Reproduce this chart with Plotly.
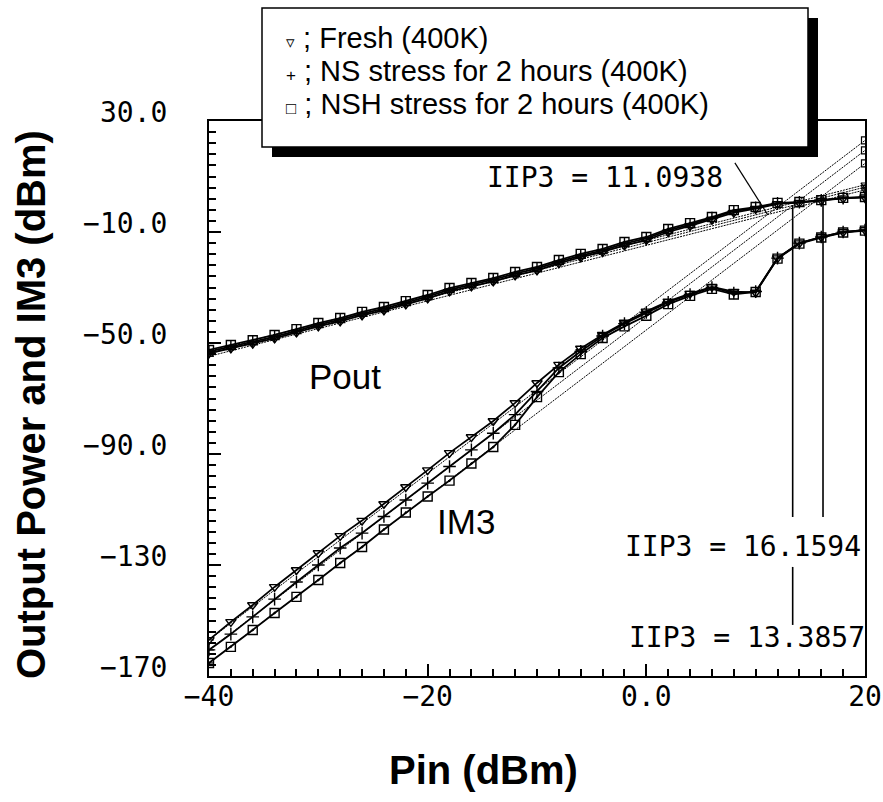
import plotly.graph_objects as go

# Input power sweep (dBm)
pin = [-40, -38, -36, -34, -32, -30, -28, -26, -24, -22, -20, -18, -16, -14, -12,
       -10, -8, -6, -4, -2, 0, 2, 4, 6, 8, 10, 12, 14, 16, 18, 20]

# Fundamental output power (dBm)
pout_fresh = [-53.7, -51.9, -50.2, -48.3, -46.2, -44.0, -42.2, -40.0, -38.2, -36.1,
              -33.9, -31.4, -29.6, -27.8, -25.6, -23.8, -21.3, -19.1, -17.2, -14.8,
              -12.9, -10.0, -7.8, -5.5, -3.0, -1.6, 0.1, 0.6, 1.3, 2.1, 2.5]
pout_ns = [-53.1, -51.3, -49.6, -47.7, -45.6, -43.4, -41.6, -39.4, -37.6, -35.5,
           -33.3, -30.8, -29.0, -27.2, -25.0, -23.2, -20.7, -18.5, -16.6, -14.2,
           -12.3, -9.4, -7.3, -5.0, -2.5, -1.3, 0.3, 0.7, 1.4, 2.2, 2.6]
pout_nsh = [-52.5, -50.7, -49.0, -47.1, -45.0, -42.8, -41.0, -38.8, -37.0, -34.9,
            -32.7, -30.2, -28.4, -26.6, -24.4, -22.6, -20.1, -17.9, -16.1, -13.6,
            -11.8, -8.9, -6.8, -4.6, -2.1, -1.0, 0.5, 0.8, 1.5, 2.3, 2.6]

# Third-order intermodulation product (dBm)
im3_fresh = [-157.0, -150.5, -144.4, -137.9, -131.8, -125.7, -119.5, -114.0, -108.0, -101.9,
             -95.8, -89.6, -83.9, -78.1, -71.6, -64.4, -57.8, -52.0, -47.0, -42.6,
             -38.6, -35.0, -32.2, -29.8, -31.5, -31.8, -19.4, -14.0, -11.8, -10.0, -9.3]
im3_ns = [-160.6, -154.9, -148.7, -142.3, -136.1, -130.0, -123.9, -118.5, -112.5, -106.6,
          -100.5, -94.5, -88.5, -82.5, -75.8, -67.5, -59.0, -53.0, -47.5, -43.0,
          -39.0, -35.3, -32.5, -30.0, -32.0, -31.5, -19.4, -14.0, -11.8, -10.0, -9.3]
im3_nsh = [-165.3, -159.5, -153.4, -147.3, -141.5, -135.4, -129.3, -123.5, -117.2, -111.1,
           -105.3, -99.6, -93.4, -87.5, -79.5, -69.5, -60.5, -54.0, -48.2, -44.0,
           -40.2, -36.0, -33.0, -30.5, -32.5, -31.6, -19.6, -14.2, -12.0, -10.2, -9.5]

series_names = ["Fresh (400K)", "NS stress for 2 hours (400K)", "NSH stress for 2 hours (400K)"]
iip3_values = [11.0938, 13.3857, 16.1594]

x_tickvals = [-40, -20, 0, 20]
x_ticktext = ["−40", "−20", "0.0", "20"]
y_tickvals = [30, -10, -50, -90, -130, -170]
y_ticktext = ["30.0", "−10.0", "−50.0", "−90.0", "−130", "−170"]

W, H = 883, 802
L, R, T, B = 209, 18, 121, 126
PW, PH = W - L - R, H - T - B


def px(xp, yp):
    """Pixel position -> paper coordinates."""
    return (xp - L) / PW, (H - B - yp) / PH


symbols = ["triangle-down-open", "cross-thin-open", "square-open-dot"]
pouts = [pout_fresh, pout_ns, pout_nsh]
im3s = [im3_fresh, im3_ns, im3_nsh]

fig = go.Figure()

x_ends = [pin[0], pin[-1]]
intercepts = []
for name, sym, po, im, iip3 in zip(series_names, symbols, pouts, im3s, iip3_values):
    # slope-3 asymptote through the first IM3 point, slope-1 asymptote meeting it at IIP3
    c3 = im[0] - 3 * pin[0]
    oip3 = c3 + 3 * iip3
    intercepts.append(oip3)
    im3_line = [c3 + 3 * x for x in x_ends]
    fund_line = [oip3 + (x - iip3) for x in x_ends]
    fig.add_trace(go.Scatter(x=x_ends, y=im3_line, mode="lines+markers",
                             line=dict(color="black", width=1, dash="2px,1px"),
                             marker=dict(symbol=["line-ew", "square-open"], size=7,
                                         color="black", line=dict(width=1.2, color="black")),
                             showlegend=False, cliponaxis=True, hoverinfo="skip"))
    fig.add_trace(go.Scatter(x=x_ends, y=fund_line, mode="lines+markers",
                             line=dict(color="black", width=1, dash="2px,1px"),
                             marker=dict(symbol=["line-ew", "triangle-down-open"], size=7,
                                         color="black", line=dict(width=1.2, color="black")),
                             showlegend=False, cliponaxis=True, hoverinfo="skip"))
    for ys in (po, im):
        fig.add_trace(go.Scatter(x=pin, y=ys, mode="lines+markers", name=name,
                                 line=dict(color="black", width=1.8),
                                 marker=dict(symbol=sym, size=9, color="black",
                                             line=dict(width=1.4, color="black")),
                                 showlegend=False, cliponaxis=True))

mono = "DejaVu Sans Mono"
shapes = []
annotations = []

# IIP3 markers: leader for the first, drop lines for the other two
shapes.append(dict(type="line", xref="x", yref="y", x0=8.1, y0=14.9,
                   x1=iip3_values[0], y1=intercepts[0], line=dict(color="black", width=1.2)))
shapes.append(dict(type="line", xref="x", yref="y", x0=iip3_values[1], y0=intercepts[1],
                   x1=iip3_values[1], y1=-112.7, line=dict(color="black", width=1.6)))
shapes.append(dict(type="line", xref="x", yref="y", x0=iip3_values[1], y0=-130.7,
                   x1=iip3_values[1], y1=-151.6, line=dict(color="black", width=1.6)))
shapes.append(dict(type="line", xref="x", yref="y", x0=iip3_values[2], y0=intercepts[2],
                   x1=iip3_values[2], y1=-112.7, line=dict(color="black", width=1.6)))

label_pos = [(7.2, 9.5, 0), (20.0, -156.3, 2), (19.85, -123.5, 0)]
for val, (lx, ly, sh) in zip(iip3_values, label_pos):
    annotations.append(dict(x=lx, y=ly, xref="x", yref="y", xanchor="right", yanchor="middle",
                            xshift=sh, text=f"IIP3 = {val:.4f}", showarrow=False,
                            font=dict(family=mono, size=28, color="black")))

# curve group labels
annotations.append(dict(x=-27.6, y=-62.0, xref="x", yref="y", text="Pout", showarrow=False,
                        font=dict(family="Liberation Sans", size=35, color="black")))
annotations.append(dict(x=-16.5, y=-114.5, xref="x", yref="y", text="IM3", showarrow=False,
                        font=dict(family="Liberation Sans", size=35, color="black")))

# axis titles
tx, ty = px(483, 770)
annotations.append(dict(x=tx, y=ty, xref="paper", yref="paper", xanchor="center",
                        yanchor="middle", text="<b>Pin (dBm)</b>", showarrow=False,
                        font=dict(family="Liberation Sans", size=40, color="black")))
tx, ty = px(31, 405)
annotations.append(dict(x=tx, y=ty, xref="paper", yref="paper", xanchor="center",
                        yanchor="middle", textangle=-90,
                        text="<b>Output Power and IM3 (dBm)</b>", showarrow=False,
                        font=dict(family="Liberation Sans", size=40, color="black")))

# legend box with drop shadow
sx0, sy0 = px(272, 157)
sx1, sy1 = px(818, 18)
shapes.append(dict(type="rect", xref="paper", yref="paper", x0=sx0, y0=sy0, x1=sx1, y1=sy1,
                   fillcolor="black", line=dict(width=0), layer="above"))
bx0, by0 = px(262, 147)
bx1, by1 = px(808, 8)
shapes.append(dict(type="rect", xref="paper", yref="paper", x0=bx0, y0=by0, x1=bx1, y1=by1,
                   fillcolor="white", line=dict(color="black", width=1.5), layer="above"))

legend_glyphs = ["▿", "+", "□"]
for i, (g, name) in enumerate(zip(legend_glyphs, series_names)):
    lx, ly = px(284, 38 + i * 33)
    annotations.append(dict(x=lx, y=ly, xref="paper", yref="paper", xanchor="left",
                            yanchor="middle", showarrow=False,
                            text=f"<span style='font-size:17px'>{g}</span> ; {name}",
                            font=dict(family="Liberation Sans", size=29, color="black")))

axis_common = dict(showline=True, linecolor="black", linewidth=2, mirror=True,
                   showgrid=False, zeroline=False, ticks="inside", tickcolor="black",
                   tickwidth=1.5, ticklen=12, ticklabeloverflow="allow", automargin=False,
                   tickfont=dict(family=mono, size=28, color="black"))

fig.update_layout(
    width=W, height=H,
    margin=dict(l=L, r=R, t=T, b=B, autoexpand=False),
    paper_bgcolor="white", plot_bgcolor="white",
    showlegend=False,
    xaxis=dict(range=[-40, 20], tickmode="array", tickvals=x_tickvals, ticktext=x_ticktext,
               ticklabelstandoff=-6,
               minor=dict(ticks="inside", ticklen=7, tickwidth=1.5, tickcolor="black",
                          dtick=2, tick0=-40, showgrid=False),
               **axis_common),
    yaxis=dict(range=[-170, 30], tickmode="array", tickvals=y_tickvals, ticktext=y_ticktext,
               ticklabelshift=-9, ticklabelstandoff=34,
               minor=dict(ticks="inside", ticklen=7, tickwidth=1.5, tickcolor="black",
                          dtick=4, tick0=-170, showgrid=False),
               **axis_common),
    shapes=shapes,
    annotations=annotations,
)

fig.write_html("out.html")
